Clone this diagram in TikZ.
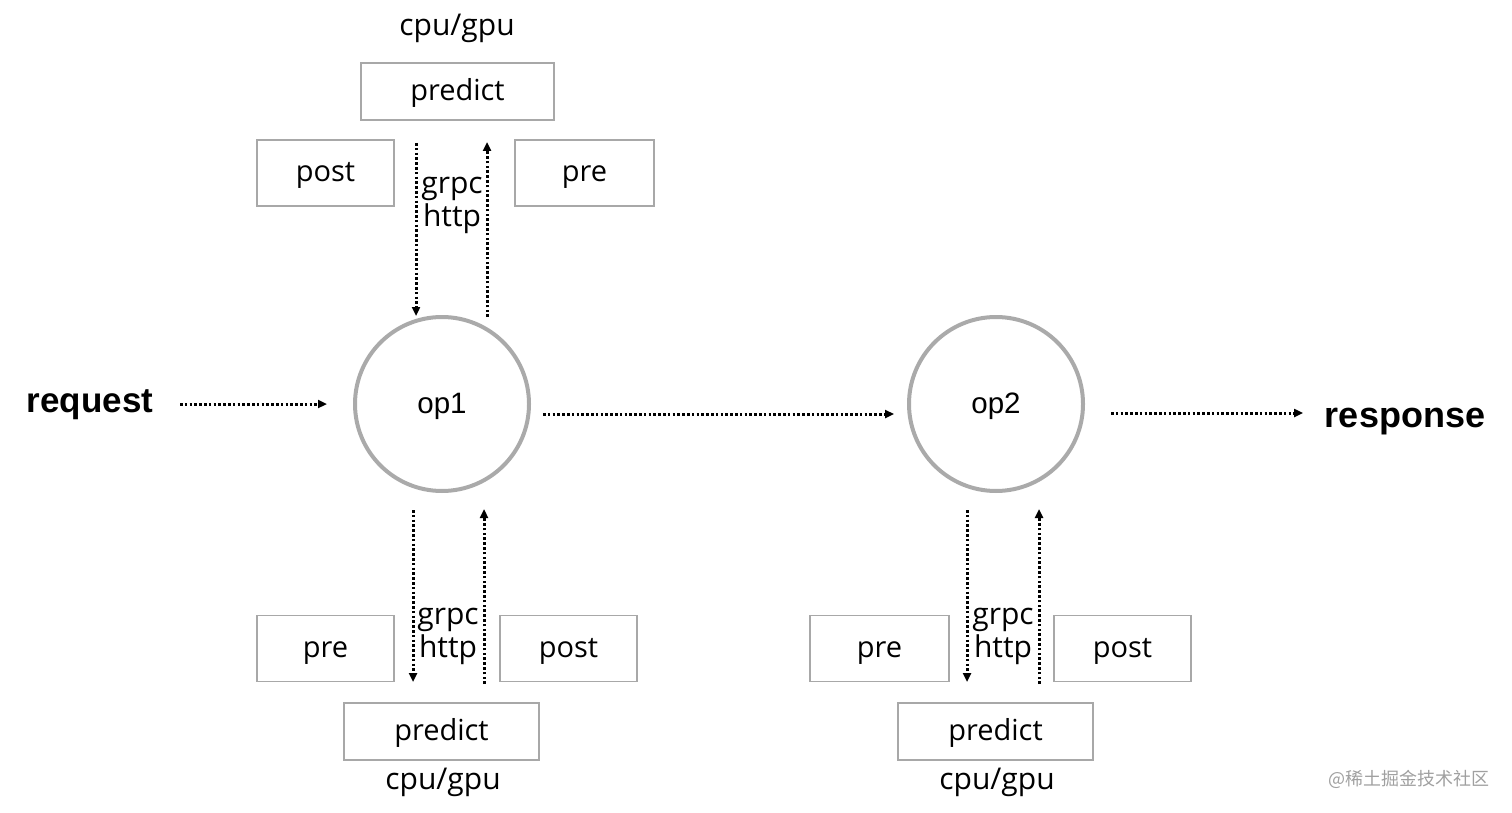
\documentclass[tikz,border=0pt]{standalone}
\usepackage{fontspec}
\setmainfont{Open Sans}
\newfontfamily\helv{Liberation Sans}
\newfontfamily\cjk{Noto Sans CJK SC}
\usetikzlibrary{arrows.meta}
\definecolor{boxgray}{HTML}{A8A8A8}
\definecolor{circgray}{HTML}{AAAAAA}
\definecolor{wmgray}{HTML}{A0A0A0}
\begin{document}
\begin{tikzpicture}[x=1pt,y=-1pt,
  box/.style={draw=boxgray, line width=1.6pt, minimum width=#1, minimum height=66pt, inner sep=0pt, text height=24pt, text depth=6pt, font=\fontsize{29}{34}\selectfont},
  box/.default=137pt,
  opnode/.style={circle, draw=circgray, line width=4pt, minimum size=174pt, inner sep=0pt, text height=24pt, text depth=6pt, font=\helv\fontsize{29.5}{32}\selectfont},
  lbl/.style={font=\fontsize{30}{34}\selectfont, inner sep=0pt, anchor=base},
  proto/.style={font=\fontsize{30}{33}\selectfont, align=center, inner sep=0pt},
  big/.style={font=\helv\bfseries\fontsize{35}{40}\selectfont, inner sep=0pt},
  flow/.style={line width=3pt, dash pattern=on 2.6pt off 2.2pt, -{Triangle[length=9pt,width=8pt]}},
]
\useasboundingbox (0,0) rectangle (1512,813);

% ---- op nodes
\node[opnode] (op1) at (442,404) {op1};
\node[opnode] (op2) at (996,404) {op2};

% ---- request / response
\node[big] (req) at (90,405) {request};
\node[big, font=\helv\bfseries\fontsize{36}{40}\selectfont] (resp) at (1405,422) {response};

\coordinate (rq1) at (180,404);
\coordinate (rq2) at (327,404);
\draw[flow] (rq1) -- (rq2);
\coordinate (m1) at (543,414);
\coordinate (m2) at (894,414);
\draw[flow] (m1) -- (m2);
\coordinate (rs1) at (1111,413);
\coordinate (rs2) at (1303,413);
\draw[flow] (rs1) -- (rs2);

% ---- top group of op1
\node[lbl] (tcg) at (457,36) {cpu/gpu};
\node[box=193pt, minimum height=57pt] (tpred) at (457.5,91.5) {predict};
\node[box] (tpost) at (325.5,173) {post};
\node[box=139pt] (tpre) at (584.5,173) {pre};
\node[proto] (tproto) at (452,205) {grpc\\http};
\coordinate (ta1) at (416,143);
\coordinate (ta2) at (416,316);
\coordinate (tb1) at (487,317);
\coordinate (tb2) at (487,142);
\draw[flow] (ta1) -- (ta2);
\draw[flow] (tb1) -- (tb2);

% ---- bottom group of op1
\node[box] (bpre1) at (325.5,648.5) {pre};
\node[box] (bpost1) at (568.5,648.5) {post};
\node[box=195pt, minimum height=57pt] (bpred1) at (441.5,731.5) {predict};
\node[lbl] (bcg1) at (443,789) {cpu/gpu};
\node[proto] (bproto1) at (448,636) {grpc\\http};
\coordinate (ba1) at (413,510);
\coordinate (ba2) at (413,682);
\coordinate (bb1) at (484,684);
\coordinate (bb2) at (484,509);
\draw[flow] (ba1) -- (ba2);
\draw[flow] (bb1) -- (bb2);

% ---- bottom group of op2
\node[box=139pt] (bpre2) at (879.5,648.5) {pre};
\node[box] (bpost2) at (1122.5,648.5) {post};
\node[box=195pt, minimum height=57pt] (bpred2) at (995.5,731.5) {predict};
\node[lbl] (bcg2) at (997,789) {cpu/gpu};
\node[proto] (bproto2) at (1003,636) {grpc\\http};
\coordinate (ca1) at (967,510);
\coordinate (ca2) at (967,682);
\coordinate (cb1) at (1039,684);
\coordinate (cb2) at (1039,509);
\draw[flow] (ca1) -- (ca2);
\draw[flow] (cb1) -- (cb2);

% ---- watermark
\node[font=\cjk\fontsize{18}{20}\selectfont, text=wmgray, inner sep=0pt] (wm) at (1409,779) {@稀土掘金技术社区};
\end{tikzpicture}
\end{document}
